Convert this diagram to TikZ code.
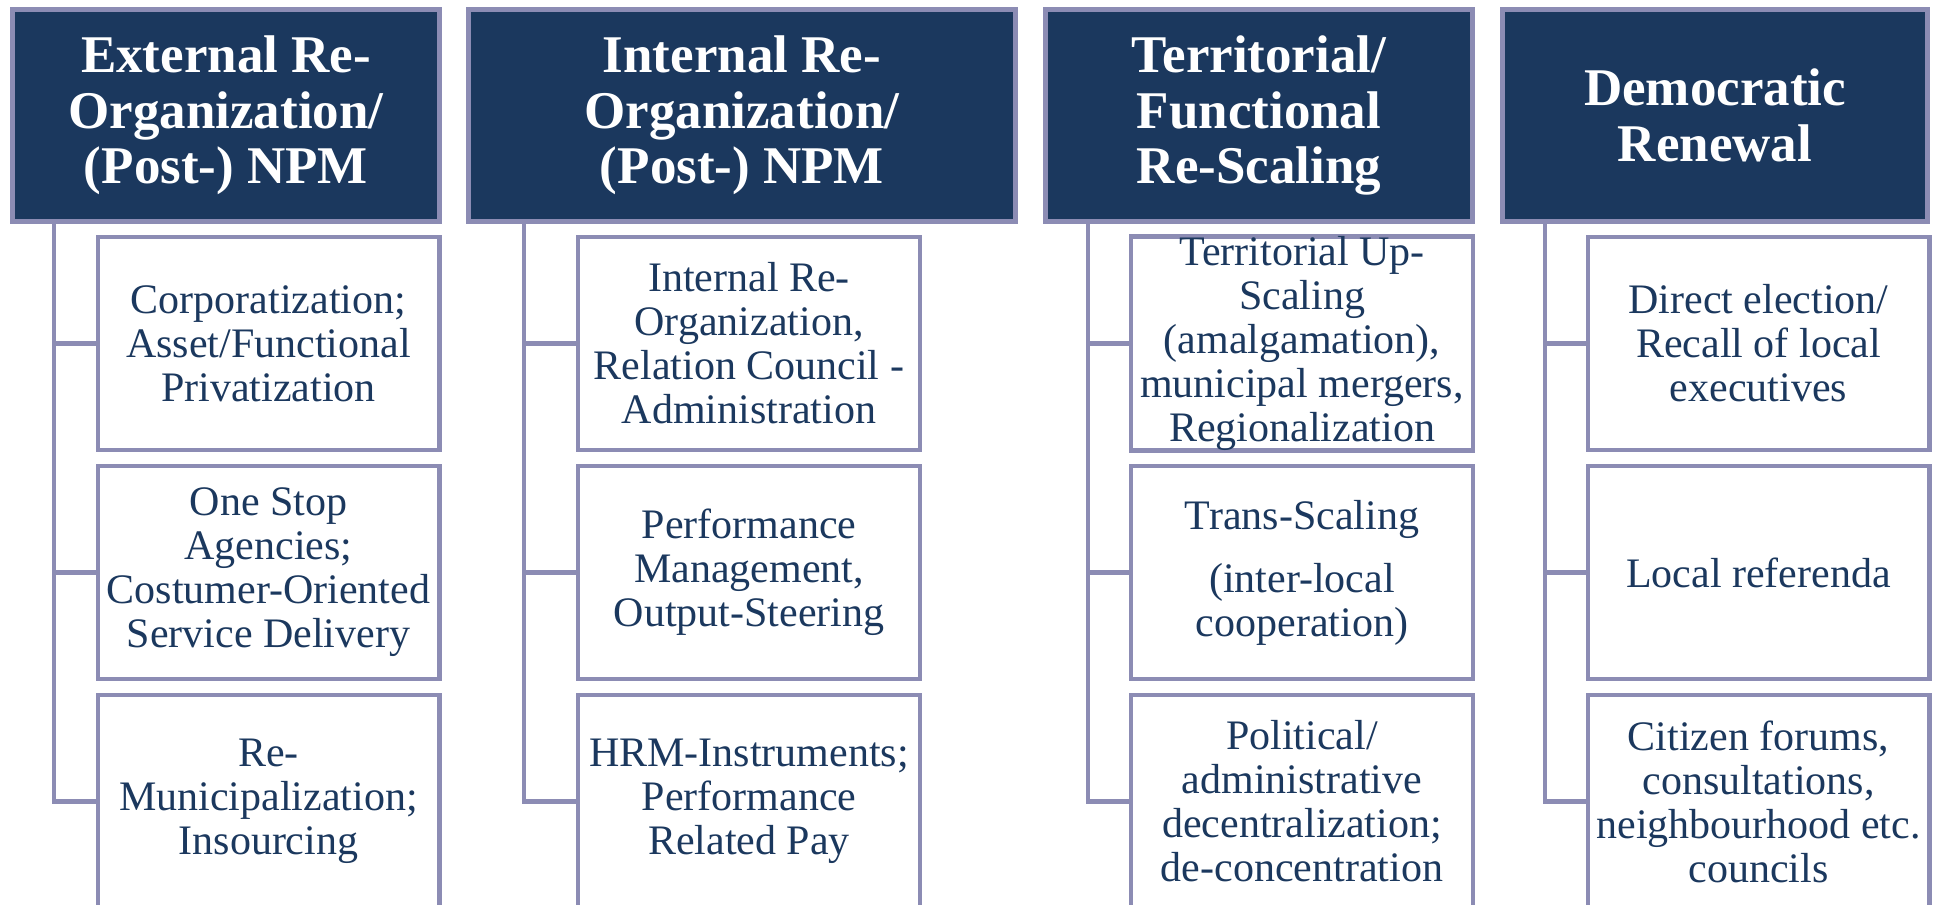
\documentclass[tikz,border=0pt]{standalone}
\usepackage{fontspec}
\setmainfont{Liberation Serif}
\definecolor{navy}{RGB}{27,56,94}
\definecolor{lav}{RGB}{140,140,180}
\begin{document}
\begin{tikzpicture}[x=0.5pt,y=-0.5pt,
  hdr/.style={draw=lav, line width=2.3pt, fill=navy, text=white,
    font=\fontsize{26.5}{27.75}\selectfont\bfseries, align=center,
    minimum width=#1, minimum height=106.2pt, inner sep=0pt},
  child/.style={draw=lav, line width=2.2pt, fill=white, text=navy,
    font=\fontsize{21}{22}\selectfont, align=center,
    minimum width=170.8pt, minimum height=106.3pt, inner sep=0pt},
  conn/.style={draw=lav, line width=2.3pt}]
\clip (0,0) rectangle (1934,905);
\fill[white] (0,0) rectangle (1934,905);

% headers
\node[hdr=213.7pt] (h1) at (226,115.5) {External Re-\\Organization/\\(Post-) NPM};
\node[hdr=273.7pt] (h2) at (742,115.5) {Internal Re-\\Organization/\\(Post-) NPM};
\node[hdr=213.7pt] (h3) at (1259,115.5) {Territorial/\\Functional\\Re-Scaling};
\node[hdr=212.7pt] (h4) at (1715,115.5) {Democratic\\Renewal};

% branch coordinates
\coordinate (v1) at (54,0);
\coordinate (v2) at (524,0);
\coordinate (v3) at (1088,0);
\coordinate (v4) at (1545,0);

% column 1
\node[child] (c11) at (268.5,343.5) {Corporatization;\\Asset/Functional\\Privatization};
\node[child] (c12) at (268.5,572.5) {One Stop\\Agencies;\\Costumer-Oriented\\Service Delivery};
\node[child] (c13) at (268.5,801.5) {Re-\\Municipalization;\\Insourcing};

% column 2
\node[child] (c21) at (749,343.5) {Internal Re-\\Organization,\\Relation Council -\\Administration};
\node[child] (c22) at (749,572.5) {Performance\\Management,\\Output-Steering};
\node[child] (c23) at (749,801.5) {HRM-Instruments;\\Performance\\Related Pay};

% column 3
\node[child] (c31) at (1302,343.5) {Territorial Up-\\Scaling\\(amalgamation),\\municipal mergers,\\Regionalization};
\node[child] (c32) at (1302,572.5) {Trans-Scaling\\[9.5pt](inter-local\\cooperation)};
\node[child] (c33) at (1302,801.5) {Political/\\administrative\\decentralization;\\de-concentration};

% column 4
\node[child] (c41) at (1758.5,343.5) {Direct election/\\Recall of local\\executives};
\node[child] (c42) at (1758.5,572.5) {Local referenda};
\node[child] (c43) at (1758.5,801.5) {Citizen forums,\\consultations,\\neighbourhood etc.\\councils};

% connectors
\foreach \c in {1,2,3,4}{
  \draw[conn] (h\c.south -| v\c) |- (c\c3.west);
  \draw[conn] (c\c1.west -| v\c) -- (c\c1.west);
  \draw[conn] (c\c2.west -| v\c) -- (c\c2.west);
}
\end{tikzpicture}
\end{document}
